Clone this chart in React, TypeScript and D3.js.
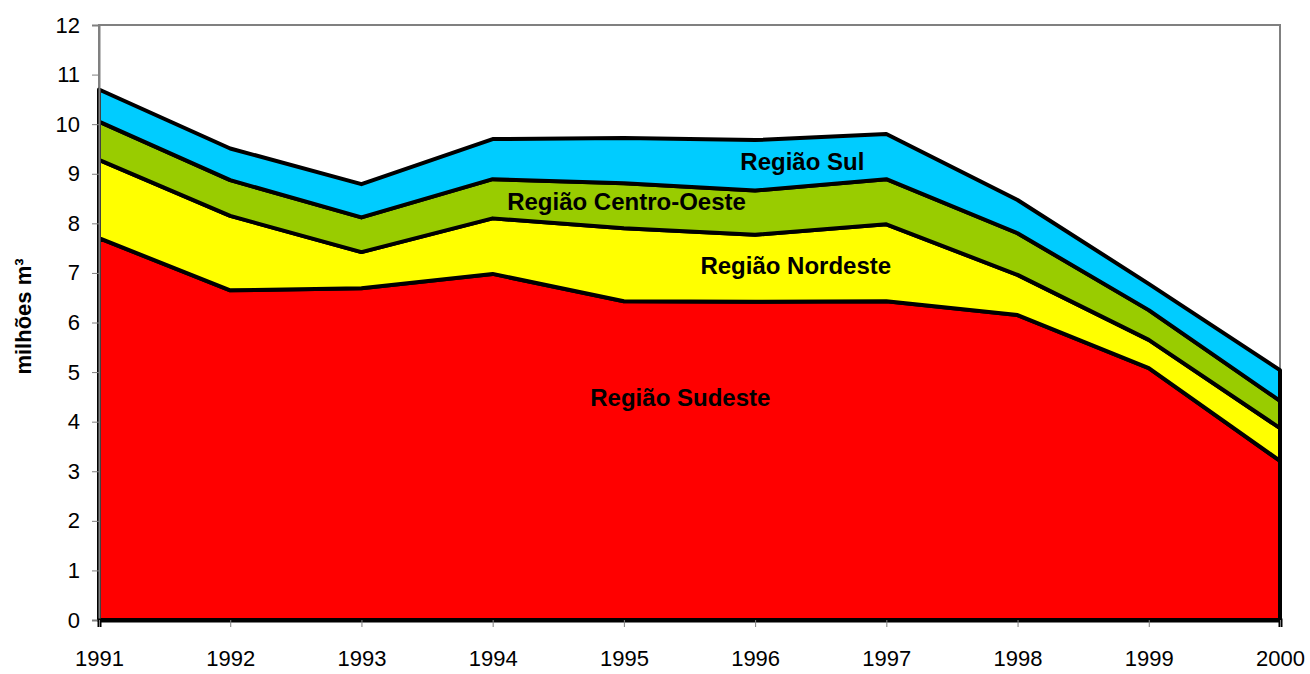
import React, { useEffect, useRef } from "react";
import * as d3 from "d3";

// Years on the x axis
const years = [1991, 1992, 1993, 1994, 1995, 1996, 1997, 1998, 1999, 2000];

// Series values (milhões m³), stacked bottom to top
const sudeste = [7.7, 6.65, 6.69, 6.98, 6.43, 6.42, 6.43, 6.15, 5.08, 3.21];
const nordeste = [1.58, 1.5, 0.73, 1.12, 1.47, 1.35, 1.55, 0.81, 0.57, 0.66];
const centroOeste = [0.77, 0.72, 0.7, 0.79, 0.91, 0.89, 0.91, 0.84, 0.6, 0.55];
const sul = [0.65, 0.64, 0.67, 0.81, 0.91, 1.02, 0.91, 0.67, 0.53, 0.62];

const seriesKeys = ["sudeste", "nordeste", "centroOeste", "sul"];
const seriesColors = ["#ff0000", "#ffff00", "#99cc00", "#00ccff"];

// Labels sitting inside each band
const bandLabels = [
  { text: "Região Sudeste", year: 1995.43, value: 4.45 },
  { text: "Região Nordeste", year: 1996.31, value: 7.1 },
  { text: "Região Centro-Oeste", year: 1995.02, value: 8.4 },
  { text: "Região Sul", year: 1996.36, value: 9.2 },
];

const yTicks = d3.range(0, 13);

export default function App() {
  const ref = useRef<SVGSVGElement | null>(null);

  useEffect(() => {
    const width = 1310;
    const height = 674;
    const margin = { top: 25, right: 30, bottom: 54, left: 99 };

    const svg = d3.select(ref.current!);
    svg.selectAll("*").remove();

    const rows = years.map((year, i) => ({
      year,
      sudeste: sudeste[i],
      nordeste: nordeste[i],
      centroOeste: centroOeste[i],
      sul: sul[i],
    }));

    const x = d3
      .scaleLinear()
      .domain([years[0], years[years.length - 1]])
      .range([margin.left, width - margin.right]);

    const y = d3
      .scaleLinear()
      .domain([0, 12])
      .range([height - margin.bottom, margin.top]);

    const stacked = d3.stack<any>().keys(seriesKeys)(rows);

    const area = d3
      .area<any>()
      .x((d) => x(d.data.year))
      .y0((d) => y(d[0]))
      .y1((d) => y(d[1]));

    // plot area frame (gray top/right)
    svg
      .append("rect")
      .attr("x", x.range()[0])
      .attr("y", y(12))
      .attr("width", x.range()[1] - x.range()[0])
      .attr("height", y(0) - y(12))
      .attr("fill", "#fff")
      .attr("stroke", "#808080")
      .attr("stroke-width", 2);

    // stacked areas
    svg
      .append("g")
      .selectAll("path")
      .data(stacked)
      .join("path")
      .attr("d", (d) => area(d as any)!)
      .attr("fill", (_, i) => seriesColors[i])
      .attr("stroke", "#000")
      .attr("stroke-width", 4)
      .attr("stroke-linejoin", "round");

    const font = "'Liberation Sans', Arial, sans-serif";

    // y axis
    const yAxis = svg
      .append("g")
      .attr("transform", `translate(${x.range()[0]},0)`)
      .call(d3.axisLeft(y).tickValues(yTicks).tickSize(7).tickPadding(12).tickFormat(d3.format("d")));
    yAxis.select(".domain").attr("stroke", "#808080").attr("stroke-width", 2);
    yAxis.selectAll(".tick line").attr("stroke", "#808080");
    yAxis
      .selectAll(".tick text")
      .attr("font-family", font)
      .attr("font-size", 22)
      .attr("fill", "#000");

    // x axis
    const xAxis = svg
      .append("g")
      .attr("transform", `translate(0,${y(0)})`)
      .call(
        d3
          .axisBottom(x)
          .tickValues(years)
          .tickSize(7)
          .tickPadding(23)
          .tickFormat(d3.format("d"))
      );
    xAxis.select(".domain").attr("stroke", "#000").attr("stroke-width", 4);
    xAxis.selectAll(".tick line").attr("stroke", "#808080");
    xAxis
      .selectAll(".tick text")
      .attr("font-family", font)
      .attr("font-size", 22)
      .attr("fill", "#000");

    // y axis title
    svg
      .append("text")
      .attr("transform", `translate(31,${(y(0) + y(12)) / 2 - 6}) rotate(-90)`)
      .attr("text-anchor", "middle")
      .attr("font-family", font)
      .attr("font-weight", "bold")
      .attr("font-size", 22)
      .text("milhões m³");

    // band labels
    svg
      .append("g")
      .selectAll("text")
      .data(bandLabels)
      .join("text")
      .attr("x", (d) => x(d.year))
      .attr("y", (d) => y(d.value))
      .attr("text-anchor", "middle")
      .attr("dominant-baseline", "middle")
      .attr("font-family", font)
      .attr("font-weight", "bold")
      .attr("font-size", 24)
      .attr("fill", "#000")
      .text((d) => d.text);
  }, []);

  return (
    <svg
      ref={ref}
      width={1310}
      height={674}
      style={{ position: "fixed", left: 0, top: 0, background: "#fff" }}
    />
  );
}
